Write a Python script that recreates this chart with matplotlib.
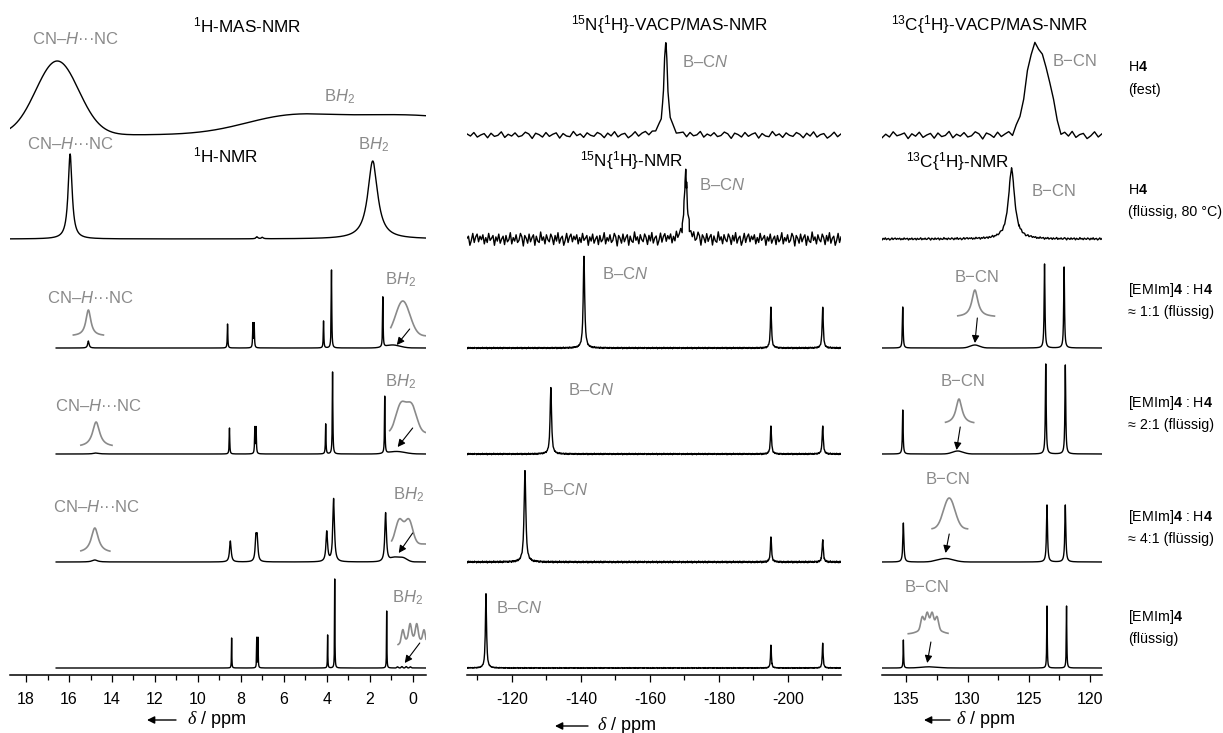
import numpy as np
import matplotlib.pyplot as plt
from matplotlib.patches import FancyArrowPatch

plt.rcParams['font.family'] = 'Liberation Sans'
plt.rcParams['mathtext.fontset'] = 'custom'
plt.rcParams['mathtext.rm'] = 'Liberation Sans'
plt.rcParams['mathtext.it'] = 'Liberation Sans:italic'
plt.rcParams['mathtext.bf'] = 'Liberation Sans:bold'

GRAY = '#8a8a8a'

# sample labels on the right, one pair per trace row
SAMPLE_NAMES = [r'H$\mathbf{4}$', r'H$\mathbf{4}$',
                r'[EMIm]$\mathbf{4}$ : H$\mathbf{4}$', r'[EMIm]$\mathbf{4}$ : H$\mathbf{4}$',
                r'[EMIm]$\mathbf{4}$ : H$\mathbf{4}$', r'[EMIm]$\mathbf{4}$']
SAMPLE_STATES = ['(fest)', '(flüssig, 80 °C)', '≈ 1:1 (flüssig)',
                 '≈ 2:1 (flüssig)', '≈ 4:1 (flüssig)', '(flüssig)']

# peaks: (shift / ppm, height, fwhm / ppm); "lines" are Lorentzian, "humps" Gaussian
H1_LINES = [
    [],
    [(15.95, 85, 0.22), (1.86, 78, 0.55), (7.25, 2, 0.1), (7.0, 1.5, 0.1)],
    [(15.1, 7, 0.08), (8.62, 24, 0.03), (7.44, 24, 0.03), (7.38, 24, 0.03),
     (4.15, 27, 0.03), (3.78, 78, 0.03), (1.39, 50, 0.03)],
    [(14.74, 1, 0.3), (8.53, 26, 0.03), (7.35, 26, 0.03), (7.29, 26, 0.03),
     (4.05, 30, 0.03), (3.73, 82, 0.03), (1.30, 57, 0.03)],
    [(14.8, 2, 0.3), (8.49, 21, 0.09), (7.30, 22, 0.08), (7.24, 22, 0.08),
     (4.0, 30, 0.09), (3.68, 63, 0.09), (1.26, 49, 0.09)],
    [(8.43, 30, 0.02), (7.26, 30, 0.02), (7.20, 30, 0.02), (3.96, 33, 0.02),
     (3.63, 89, 0.02), (1.21, 57, 0.02)],
]
H1_HUMPS = [
    [(16.55, 74, 2.35), (6.0, 12, 4.7), (0.5, 20, 9.4)],
    [],
    [(0.93, 3, 0.8)],
    [(0.75, 2.5, 0.9)],
    [(0.85, 4, 0.45), (0.45, 4, 0.45)],
    [(0.7, 1.2, 0.08), (0.5, 1.4, 0.08), (0.3, 1.4, 0.08), (0.1, 1.2, 0.08)],
]
# magnified insets (rows 3-6)
H1_CNH_INSETS = [[(15.1, 26, 0.28)], [(14.74, 25, 0.4)], [(14.8, 25, 0.4)], []]
H1_BH2_INSETS = [
    [(0.46, 35, 0.78)],
    [(0.55, 28, 0.55), (0.05, 27, 0.55)],
    [(0.62, 24, 0.42), (0.18, 24, 0.42)],
    [(-0.03, 11, 1.1), (0.46, 12, 0.14), (0.12, 14, 0.14), (-0.19, 14, 0.14), (-0.53, 12, 0.14)],
]

N15_LINES = [
    [(-164.6, 93, 1.3)],
    [(-170.4, 67, 1.0)],
    [(-140.9, 92, 0.5), (-195.1, 41, 0.4), (-210.1, 41, 0.4)],
    [(-131.3, 67, 0.5), (-195.1, 28, 0.4), (-210.1, 28, 0.4)],
    [(-123.8, 91, 0.6), (-195.1, 25, 0.4), (-210.1, 22, 0.4)],
    [(-112.5, 74, 0.4), (-195.1, 23, 0.3), (-210.1, 25, 0.3)],
]
N15_NOISE = [3.5, 7.0, 0.8, 0.8, 1.0, 0.5]

C13_LINES = [
    [],
    [(126.4, 70, 0.6)],
    [(135.3, 41, 0.07), (123.7, 84, 0.08), (122.1, 81, 0.08)],
    [(135.3, 44, 0.07), (123.6, 90, 0.08), (122.0, 89, 0.08)],
    [(135.25, 39, 0.1), (123.5, 57, 0.1), (122.0, 57, 0.1)],
    [(135.25, 28, 0.05), (123.5, 62, 0.05), (121.9, 62, 0.05)],
]
C13_HUMPS = [
    [(124.45, 91, 1.7), (123.3, 30, 1.0)],
    [],
    [(129.4, 3, 0.9)],
    [(130.8, 3, 1.0)],
    [(131.8, 3.5, 1.5)],
    [(133.1, 1.2, 1.6)],
]
C13_NOISE = [4.0, 1.2, 0, 0, 0, 0]
C13_INSETS_L = [[(129.4, 27, 0.6)], [(130.7, 25, 0.6)], [], []]
C13_INSETS_G = [[], [], [(131.5, 31, 1.1)],
                [(133.1, 8, 1.6), (133.7, 12, 0.3), (133.3, 14, 0.3),
                 (132.9, 14, 0.3), (132.5, 12, 0.3)]]

# hand-typed baseline wiggle, repeated along each trace
NOISE = [0.3, -0.5, 0.8, -0.2, -0.9, 0.4, 0.1, -0.6, 0.9, -0.3, 0.5, -0.8, 0.2,
         0.7, -0.4, -0.1, 0.6, -0.7, 0.3, -0.2, 1.0, -0.5, -0.3, 0.4, -0.9, 0.6,
         0.2, -0.4, 0.7, -0.6, 0.1, 0.5, -1.0, 0.3, 0.8, -0.2, -0.5, 0.6, -0.3,
         0.2, -0.7, 0.9, -0.1, -0.4, 0.5, -0.8, 0.4, 0.0, -0.6, 0.7, -0.3, 0.3,
         -0.9, 0.5, 0.1, -0.2, 0.8, -0.5, 0.2, -0.7, 0.6, -0.1, 0.4, -0.4, 0.7]


def lorentz(x, peaks):
    y = np.zeros_like(x)
    for c, h, w in peaks:
        y += h / (1 + ((x - c) / (w / 2)) ** 2)
    return y


def gauss(x, peaks):
    y = np.zeros_like(x)
    for c, h, w in peaks:
        s = w / 2.3548
        y += h * np.exp(-0.5 * ((x - c) / s) ** 2)
    return y


def make_grid(lo, hi, n, lines):
    x = np.linspace(lo, hi, n)
    extra = [c + f * w for c, h, w in lines for f in (-1, -0.5, -0.25, 0, 0.25, 0.5, 1)]
    extra = [e for e in extra if lo <= e <= hi]
    return np.sort(np.concatenate([x, extra]))


W, H = 1223, 733
AX_BOTTOM = 675
BASE_PX = [135, 239, 348, 454, 562, 668]
BASE = [AX_BOTTOM - b for b in BASE_PX]

fig = plt.figure(figsize=(W / 100, H / 100), dpi=100)


def make_axes(x0, x1, xlim, major, minor):
    ax = fig.add_axes([x0 / W, 1 - AX_BOTTOM / H, (x1 - x0) / W, AX_BOTTOM / H])
    ax.set_xlim(*xlim)
    ax.set_ylim(0, AX_BOTTOM)
    for s in ['left', 'right', 'top']:
        ax.spines[s].set_visible(False)
    ax.spines['bottom'].set_linewidth(1.1)
    ax.set_yticks([])
    ax.set_xticks(major)
    ax.set_xticks(minor, minor=True)
    ax.set_xticklabels([f'{m:g}' for m in major])
    ax.tick_params(axis='x', which='major', direction='out', length=5, width=0.9,
                   labelsize=11.5, pad=7)
    ax.tick_params(axis='x', which='minor', direction='out', length=3.5, width=0.9)
    ax.patch.set_visible(False)
    return ax


def ytxt(py):
    return AX_BOTTOM - py


def gray_text(ax, x, py, s):
    ax.text(x, ytxt(py), s, color=GRAY, fontsize=12, ha='center', va='center')


def title_text(ax, x, py, s):
    ax.text(x, ytxt(py), s, fontsize=12.3, ha='center', va='center')


def arrow(ax, x_from, dy_from, x_to, dy_to, row):
    ax.annotate('', xy=(x_to, BASE[row] + dy_to), xytext=(x_from, BASE[row] + dy_from),
                arrowprops=dict(arrowstyle='-|>', color='k', lw=0.8,
                                mutation_scale=11, shrinkA=0, shrinkB=0))


# ---------------- 1H panel ----------------
ax1 = make_axes(10, 426, (18.75, -0.62), list(range(18, -1, -2)), list(range(17, 0, -2)))
for row in range(6):
    lo = -0.62
    hi = 18.75 if row < 2 else 16.6
    x = make_grid(lo, hi, 8000, H1_LINES[row])
    y = lorentz(x, H1_LINES[row]) + gauss(x, H1_HUMPS[row])
    ax1.plot(x, BASE[row] + y, color='k', lw=1.0)

cnh_windows = [(15.8, 14.4), (15.45, 14.0), (15.45, 14.1)]
cnh_lift = [12, 7, 9]
for i, (a, b) in enumerate(cnh_windows):
    x = np.linspace(b, a, 300)
    ax1.plot(x, BASE[i + 2] + cnh_lift[i] + lorentz(x, H1_CNH_INSETS[i]), color=GRAY, lw=1.2)

bh2_windows = [(1.02, -0.62), (1.07, -0.62), (0.98, -0.62), (0.68, -0.62)]
bh2_lift = [12, 21, 18, 20]
for i, (a, b) in enumerate(bh2_windows):
    x = np.linspace(b, a, 400)
    ax1.plot(x, BASE[i + 2] + bh2_lift[i] + gauss(x, H1_BH2_INSETS[i]), color=GRAY, lw=1.2)

arrow(ax1, 0.14, 19, 0.74, 3, 2)
arrow(ax1, 0.0, 26, 0.70, 7, 3)
arrow(ax1, 0.0, 29, 0.65, 9, 4)
arrow(ax1, -0.33, 25, 0.37, 5, 5)

title_text(ax1, 7.7, 25, r'$^{1}$H-MAS-NMR')
title_text(ax1, 8.72, 155, r'$^{1}$H-NMR')
cnh = r'CN–$H$···NC'
bh2 = r'B$H_2$'
gray_text(ax1, 15.7, 39, cnh)
gray_text(ax1, 3.4, 97, bh2)
gray_text(ax1, 15.95, 144, cnh)
gray_text(ax1, 1.82, 145, bh2)
gray_text(ax1, 15.0, 298, cnh)
gray_text(ax1, 14.64, 406, cnh)
gray_text(ax1, 14.73, 507, cnh)
gray_text(ax1, 0.56, 280, bh2)
gray_text(ax1, 0.56, 382, bh2)
gray_text(ax1, 0.18, 495, bh2)
gray_text(ax1, 0.23, 598, bh2)

# ---------------- 15N panel ----------------
ax2 = make_axes(467, 841, (-107.0, -215.4), [-120, -140, -160, -180, -200],
                [-110, -130, -150, -170, -190, -210])
n15_points = [110, 260, 700, 700, 700, 700]
for row in range(6):
    x = make_grid(-215.4, -107.0, n15_points[row], N15_LINES[row])
    y = lorentz(x, N15_LINES[row]) + np.resize(NOISE, len(x)) * N15_NOISE[row]
    ax2.plot(x, BASE[row] + y, color='k', lw=1.0)

title_text(ax2, -165.8, 25, r'$^{15}$N{$^{1}$H}-VACP/MAS-NMR')
title_text(ax2, -154.8, 161, r'$^{15}$N{$^{1}$H}-NMR')
bcn_n = r'B–C$N$'
gray_text(ax2, -175.9, 62, bcn_n)
gray_text(ax2, -180.9, 185, bcn_n)
gray_text(ax2, -152.8, 274, bcn_n)
gray_text(ax2, -142.9, 390, bcn_n)
gray_text(ax2, -135.4, 490, bcn_n)
gray_text(ax2, -122.0, 608, bcn_n)

# ---------------- 13C panel ----------------
ax3 = make_axes(882, 1102, (137.0, 119.0), [135, 130, 125, 120], [132.5, 127.5, 122.5])
c13_points = [60, 200, 5000, 5000, 5000, 5000]
for row in range(6):
    x = make_grid(119.0, 137.0, c13_points[row], C13_LINES[row])
    y = lorentz(x, C13_LINES[row]) + gauss(x, C13_HUMPS[row])
    y = y + np.resize(NOISE, len(x)) * C13_NOISE[row]
    ax3.plot(x, BASE[row] + y, color='k', lw=1.0)

c13_windows = [(130.8, 127.8), (131.8, 129.5), (132.9, 130.0), (134.85, 131.6)]
c13_lift = [31, 30, 33, 34]
for i, (a, b) in enumerate(c13_windows):
    x = np.linspace(b, a, 300)
    y = lorentz(x, C13_INSETS_L[i]) + gauss(x, C13_INSETS_G[i])
    ax3.plot(x, BASE[i + 2] + c13_lift[i] + y, color=GRAY, lw=1.2)

arrow(ax3, 129.2, 30, 129.4, 5, 2)
arrow(ax3, 130.6, 27, 130.9, 4, 3)
arrow(ax3, 131.5, 28, 131.8, 9, 4)
arrow(ax3, 133.0, 26, 133.3, 5, 5)

title_text(ax3, 128.2, 25, r'$^{13}$C{$^{1}$H}-VACP/MAS-NMR')
title_text(ax3, 130.8, 162, r'$^{13}$C{$^{1}$H}-NMR')
bcn_c = 'B−CN'
gray_text(ax3, 121.2, 61, bcn_c)
gray_text(ax3, 122.9, 192, bcn_c)
gray_text(ax3, 129.2, 278, bcn_c)
gray_text(ax3, 130.4, 382, bcn_c)
gray_text(ax3, 131.6, 480, bcn_c)
gray_text(ax3, 133.3, 588, bcn_c)

# ---------------- right-hand labels ----------------
name_py = [67, 190, 290, 403, 517, 617]
state_py = [90, 212, 312, 425, 539, 639]
for name, state, a, b in zip(SAMPLE_NAMES, SAMPLE_STATES, name_py, state_py):
    fig.text(1128 / W, 1 - a / H, name, fontsize=10.3, ha='left', va='center')
    fig.text(1128 / W, 1 - b / H, state, fontsize=10.3, ha='left', va='center')

# ---------------- axis titles (arrow + delta / ppm) ----------------
for ax_from, ax_to, d_x, py in [(176, 147, 187, 720), (588, 555, 597, 726), (950, 924, 956, 720)]:
    fig.add_artist(FancyArrowPatch(
        (ax_from / W, 1 - py / H), (ax_to / W, 1 - py / H), transform=fig.transFigure,
        arrowstyle='-|>', mutation_scale=11, lw=1.0, color='k', shrinkA=0, shrinkB=0))
    fig.text(d_x / W, 1 - py / H, 'δ', family='Liberation Serif', style='italic',
             fontsize=13, ha='left', va='center')
    fig.text((d_x + 14) / W, 1 - py / H, '/ ppm', fontsize=13, ha='left', va='center')

fig.savefig('out.png', dpi=100)
